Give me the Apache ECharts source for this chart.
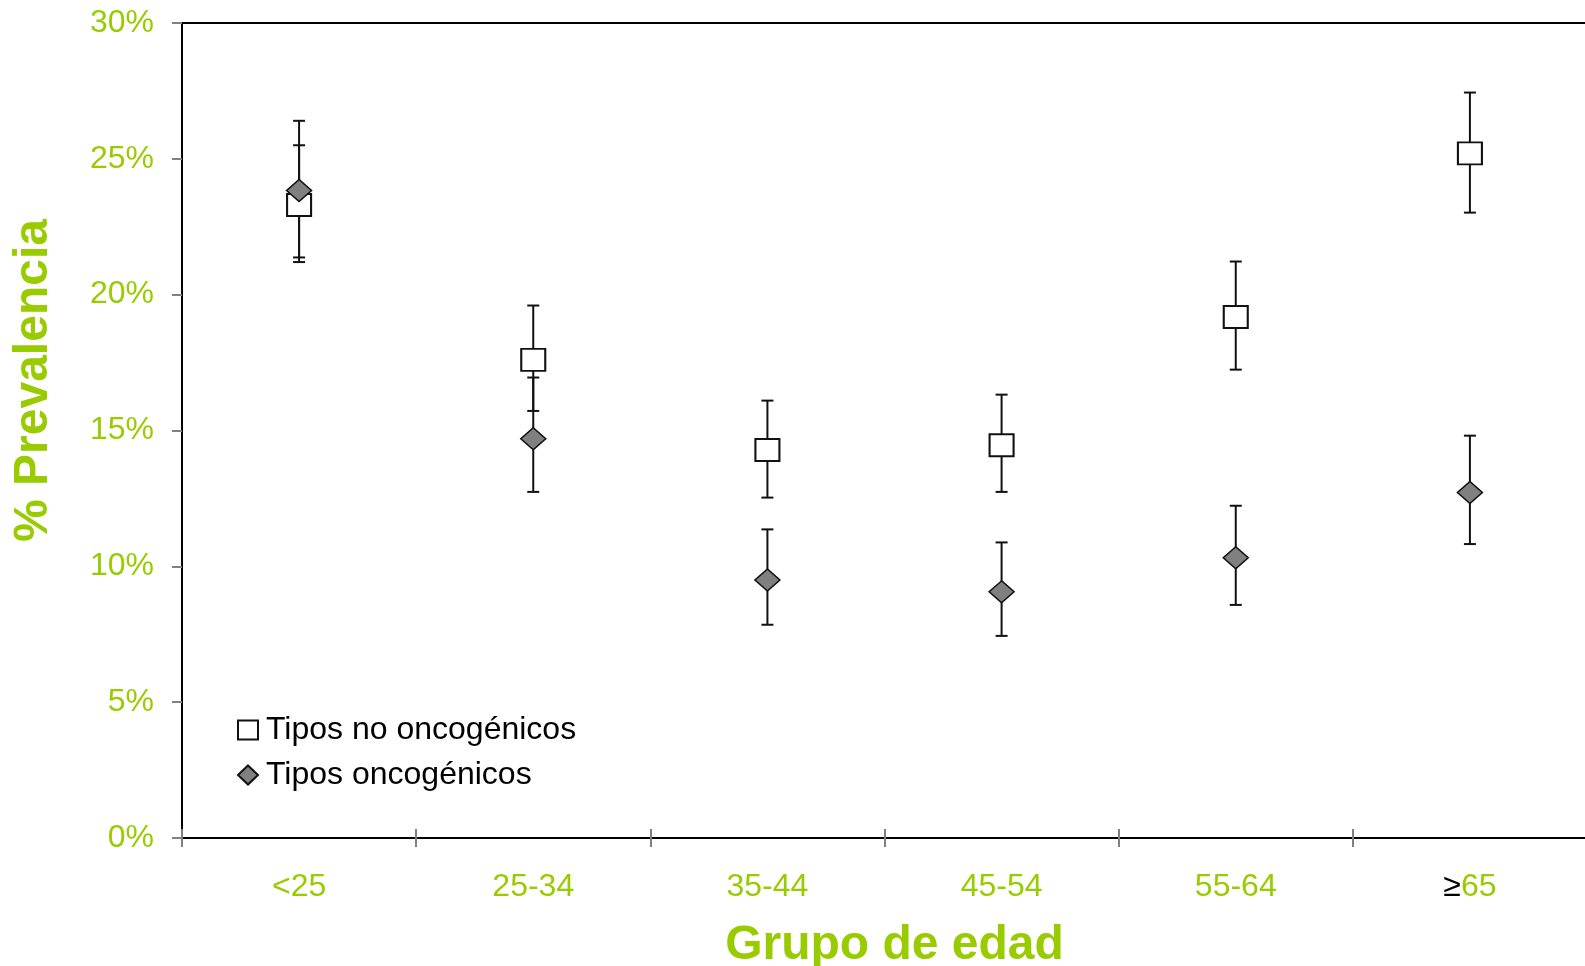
<!DOCTYPE html>
<html>
<head>
<meta charset="utf-8">
<script src="https://cdn.jsdelivr.net/npm/echarts@6/dist/echarts.min.js"></script>
<style>
html,body{margin:0;padding:0;background:#fff;}
#c{width:1585px;height:966px;}
</style>
</head>
<body>
<div id="c"></div>
<script>
var categories = ['<25', '25-34', '35-44', '45-54', '55-64', '≥65'];
var yTicks = [0, 5, 10, 15, 20, 25, 30];

var noOncoName = 'Tipos no oncogénicos';
var noOncoVals = [23.3, 17.6, 14.28, 14.46, 19.18, 25.2];
var noOncoLow  = [21.2, 15.72, 12.53, 12.74, 17.24, 23.02];
var noOncoHigh = [25.5, 19.6, 16.1, 16.32, 21.22, 27.44];

var oncoName = 'Tipos oncogénicos';
var oncoVals = [23.83, 14.7, 9.5, 9.06, 10.32, 12.72];
var oncoLow  = [21.37, 12.74, 7.85, 7.44, 8.58, 10.82];
var oncoHigh = [26.4, 16.95, 11.36, 10.88, 12.23, 14.81];

var GREEN = '#99CC00';
var FONT = '"Liberation Sans", Arial, sans-serif';

function errData(low, high) {
  return categories.map(function (c, i) { return [i, low[i], high[i]]; });
}
function errRender(params, api) {
  var x = api.value(0);
  var lo = api.coord([x, api.value(1)]);
  var hi = api.coord([x, api.value(2)]);
  var cw = 6;
  var st = { stroke: '#111', lineWidth: 2 };
  return {
    type: 'group',
    children: [
      { type: 'line', shape: { x1: lo[0], y1: lo[1], x2: hi[0], y2: hi[1] }, style: st },
      { type: 'line', shape: { x1: lo[0] - cw, y1: lo[1], x2: lo[0] + cw, y2: lo[1] }, style: st },
      { type: 'line', shape: { x1: hi[0] - cw, y1: hi[1], x2: hi[0] + cw, y2: hi[1] }, style: st }
    ]
  };
}

var chart = echarts.init(document.getElementById('c'), null, { renderer: 'canvas' });
chart.setOption({
  animation: false,
  backgroundColor: '#fff',
  textStyle: { fontFamily: FONT },
  grid: { left: 182, top: 23, right: -2, bottom: 128, containLabel: false, outerBoundsMode: 'none', show: true, borderColor: '#000', borderWidth: 2, backgroundColor: 'transparent' },
  legend: {
    orient: 'vertical',
    left: 232,
    top: 709,
    itemGap: 13,
    itemWidth: 20,
    itemHeight: 19,
    textStyle: { fontSize: 32, color: '#000', fontFamily: FONT, padding: [0, 0, 0, 3] },
    data: [noOncoName, oncoName]
  },
  xAxis: [{
    type: 'category',
    data: categories,
    boundaryGap: true,
    axisLine: { show: true, lineStyle: { color: '#000', width: 2 } },
    axisTick: { show: true, length: 9, lineStyle: { color: '#808080', width: 2 } },
    axisLabel: {
      color: GREEN, fontSize: 32, margin: 33, fontFamily: FONT,
      formatter: function (v) {
        if (v.charAt(0) === '≥') return '{s|≥}' + v.slice(1);
        return v;
      },
      rich: { s: { color: '#000', fontSize: 32, fontFamily: FONT } }
    },
    name: 'Grupo de edad',
    nameLocation: 'middle',
    nameGap: 84,
    nameTextStyle: { color: GREEN, fontSize: 48, fontWeight: 'bold', fontFamily: FONT, padding: [0, 0, 0, 20] }
  }, {
    type: 'category',
    data: categories,
    position: 'bottom',
    boundaryGap: true,
    axisLine: { show: false },
    axisTick: { show: true, inside: true, length: 9, lineStyle: { color: '#808080', width: 2 } },
    axisLabel: { show: false }
  }],
  yAxis: {
    type: 'value',
    min: yTicks[0],
    max: yTicks[yTicks.length - 1],
    interval: 5,
    axisLine: { show: true, lineStyle: { color: '#000', width: 2 } },
    axisTick: { show: true, length: 10, lineStyle: { color: '#808080', width: 2 } },
    splitLine: { show: false },
    axisLabel: { color: GREEN, fontSize: 32, margin: 28, fontFamily: FONT, formatter: '{value}%' },
    name: '% Prevalencia',
    nameLocation: 'middle',
    nameGap: 124,
    nameRotate: 90,
    nameTextStyle: { color: GREEN, fontSize: 48, fontWeight: 'bold', fontFamily: FONT, padding: [0, 0, 0, 100] }
  },
  series: [
    {
      type: 'custom', name: 'errNo', renderItem: errRender, data: errData(noOncoLow, noOncoHigh),
      z: 2, silent: true, encode: { x: 0, y: [1, 2] }
    },
    {
      type: 'custom', name: 'errOnco', renderItem: errRender, data: errData(oncoLow, oncoHigh),
      z: 2, silent: true, encode: { x: 0, y: [1, 2] }
    },
    {
      type: 'scatter', name: noOncoName, data: noOncoVals, symbol: 'rect', symbolSize: [24, 22],
      itemStyle: { color: '#fff', borderColor: '#111', borderWidth: 2, opacity: 1 }, z: 3
    },
    {
      type: 'scatter', name: oncoName, data: oncoVals, symbol: 'diamond', symbolSize: [25, 22],
      itemStyle: { color: '#808080', borderColor: '#111', borderWidth: 1.5, opacity: 1 }, z: 4
    }
  ]
});
</script>
</body>
</html>
